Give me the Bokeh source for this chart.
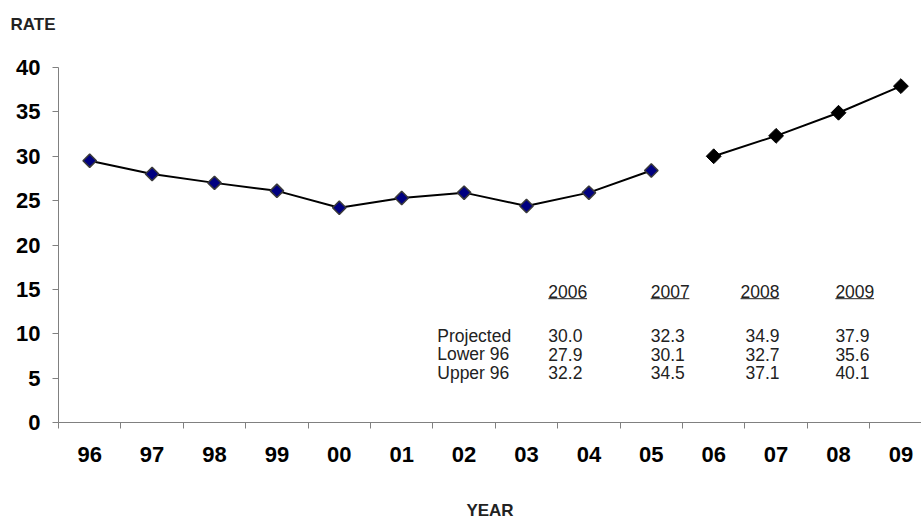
from bokeh.plotting import figure
from bokeh.models import Range1d, FixedTicker, Title
from bokeh.embed import file_html
from bokeh.resources import INLINE
from bokeh.core.properties import value
import math

# ---- data ----
years = ["96", "97", "98", "99", "00", "01", "02", "03", "04", "05", "06", "07", "08", "09"]
hist_rate = [29.5, 28.0, 27.0, 26.1, 24.2, 25.3, 25.9, 24.4, 25.9, 28.4]
proj_rate = [30.0, 32.3, 34.9, 37.9]
table_years = ["2006", "2007", "2008", "2009"]
row_names = ["Projected", "Lower 96", "Upper 96"]
projected = ["30.0", "32.3", "34.9", "37.9"]
lower96 = ["27.9", "30.1", "32.7", "35.6"]
upper96 = ["32.2", "34.5", "37.1", "40.1"]
y_ticks = [0, 5, 10, 15, 20, 25, 30, 35, 40]

FONT = "Liberation Sans"
n_hist = len(hist_rate)
hist_x = [i + 0.5 for i in range(n_hist)]
proj_x = [n_hist + i + 0.5 for i in range(len(proj_rate))]

p = figure(width=921, height=522, output_backend="svg", toolbar_location=None,
           x_range=Range1d(0, 13.83), y_range=Range1d(0, 40),
           min_border_left=58, min_border_right=0, min_border_top=67, min_border_bottom=96)
p.outline_line_color = None
p.xgrid.visible = False
p.ygrid.visible = False

# spacer between frame and the RATE title
p.add_layout(Title(text=" ", text_font=FONT, text_font_size="16px"), "above")
# RATE title, top-left
p.add_layout(Title(text="RATE", align="left", offset=-48,
                   text_font=FONT, text_font_style="bold", text_font_size="17px",
                   text_color="#222222"), "above")

# x axis: labels at category centres, tick marks at boundaries
centers = [i + 0.5 for i in range(len(years))]
bounds = [i for i in range(len(years) + 1)]
p.xaxis.ticker = FixedTicker(ticks=centers, minor_ticks=bounds)
p.xaxis.major_label_overrides = {c: y for c, y in zip(centers, years)}
p.xaxis.major_tick_line_color = None
p.xaxis.minor_tick_out = 6
p.xaxis.minor_tick_in = 0
p.xaxis.minor_tick_line_color = "#808080"
p.xaxis.axis_line_color = "#808080"
p.xaxis.major_label_standoff = 18
p.xaxis.major_label_text_font = FONT
p.xaxis.major_label_text_font_style = "bold"
p.xaxis.major_label_text_font_size = "22px"
p.xaxis.major_label_text_color = "black"
p.xaxis.axis_label = "YEAR"
p.xaxis.axis_label_text_font = FONT
p.xaxis.axis_label_text_font_style = "bold"
p.xaxis.axis_label_text_font_size = "17px"
p.xaxis.axis_label_text_color = "#222222"
p.xaxis.axis_label_standoff = 36

# y axis
p.yaxis.ticker = FixedTicker(ticks=y_ticks, minor_ticks=[])
p.yaxis.major_tick_out = 6
p.yaxis.major_tick_in = 0
p.yaxis.major_tick_line_color = "#808080"
p.yaxis.axis_line_color = "#808080"
p.yaxis.major_label_standoff = 12
p.yaxis.major_label_text_font = FONT
p.yaxis.major_label_text_font_style = "bold"
p.yaxis.major_label_text_font_size = "22px"
p.yaxis.major_label_text_color = "black"

# lines and markers
p.line(hist_x, hist_rate, line_color="black", line_width=2)
p.line(proj_x, proj_rate, line_color="black", line_width=2)
p.scatter(hist_x, hist_rate, marker="square", angle=math.pi / 4, size=9.5,
          fill_color="#000080", line_color="#3a3a3a", line_width=1.5)
p.scatter(proj_x, proj_rate, marker="square", angle=math.pi / 4, size=10.5,
          fill_color="black", line_color="black", line_width=1)

# table
head_x = [7.85, 9.49, 10.93, 12.45]
val_x = [7.85, 9.49, 11.01, 12.45]
head_y = 14.8
row_y = [9.8, 7.7, 5.6]
row_label_x = 6.07
tf = value(FONT)
TS = "17.5px"
p.text(x=head_x, y=[head_y] * 4, text=table_years, text_font=tf, text_font_size=TS,
       text_color="#222222", text_baseline="middle", text_align="left")
uw = 0.62  # underline width in data units
p.segment(x0=head_x, y0=[head_y - 0.85] * 4, x1=[h + uw for h in head_x], y1=[head_y - 0.85] * 4,
          line_color="#222222", line_width=1)
p.text(x=[row_label_x] * 3, y=row_y, text=row_names, text_font=tf, text_font_size=TS,
       text_color="#222222", text_baseline="middle", text_align="left")
for vals, ry in zip([projected, lower96, upper96], row_y):
    p.text(x=val_x, y=[ry] * 4, text=vals, text_font=tf, text_font_size=TS,
           text_color="#222222", text_baseline="middle", text_align="left")

open("out.html", "w").write(file_html(p, INLINE))
